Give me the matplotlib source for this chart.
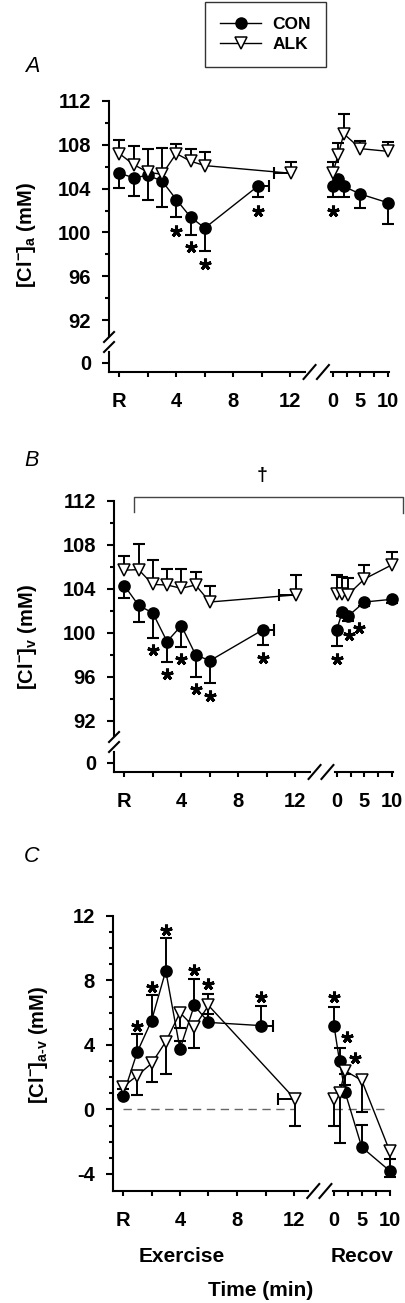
import matplotlib
matplotlib.use('Agg')
import matplotlib.pyplot as plt
from matplotlib.lines import Line2D
from matplotlib.transforms import offset_copy
import numpy as np

plt.rcParams['font.family'] = ['Liberation Sans', 'DejaVu Sans']
plt.rcParams['font.weight'] = 'bold'
plt.rcParams['mathtext.fontset'] = 'custom'
plt.rcParams['mathtext.rm'] = 'Liberation Sans:bold'
plt.rcParams['mathtext.bf'] = 'Liberation Sans:bold'
plt.rcParams['mathtext.it'] = 'Liberation Sans:bold:italic'
plt.rcParams['mathtext.default'] = 'rm'

# ---------------- data ----------------
con_ex_t = [0, 1, 2, 3, 4, 5, 6, 9.7]
alk_ex_t = [0, 1, 2, 3, 4, 5, 6, 12.05]
rec_t = [0, 1, 2, 5, 10]
con_fat_xse = 0.82
alk_fat_xse = 1.17

# Panel A: arterial [Cl-]
con_a_ex = [105.4, 105.0, 105.2, 104.7, 103.0, 101.4, 100.4, 104.2]
con_a_ex_se = [1.3, 1.65, 2.2, 2.4, 1.6, 1.6, 2.1, 1.0]
con_a_rec = [104.2, 104.9, 104.2, 103.5, 102.7]
con_a_rec_se = [1.0, 0.6, 1.0, 1.3, 1.9]
alk_a_ex = [107.2, 106.2, 105.5, 105.3, 107.2, 106.5, 106.1, 105.4]
alk_a_ex_se = [1.2, 1.7, 2.1, 2.4, 0.9, 1.1, 1.2, 1.0]
alk_a_rec = [105.4, 107.1, 109.0, 107.65, 107.4]
alk_a_rec_se = [1.0, 1.1, 1.8, 0.7, 0.9]

# Panel B: venous [Cl-]
con_b_ex = [104.3, 102.5, 101.8, 99.2, 100.65, 98.0, 97.45, 100.25]
con_b_ex_se = [1.1, 1.5, 2.3, 1.9, 1.95, 2.05, 2.05, 1.35]
con_b_rec = [100.25, 101.9, 101.5, 102.8, 103.05]
con_b_rec_se = [1.45, 0.4, 0.4, 0.4, 0.3]
alk_b_ex = [105.7, 105.75, 104.4, 104.35, 104.05, 104.35, 102.8, 103.45]
alk_b_ex_se = [1.3, 2.3, 2.2, 1.45, 1.75, 1.2, 1.45, 1.85]
alk_b_rec = [103.5, 103.5, 103.45, 104.9, 106.2]
alk_b_rec_se = [1.8, 1.6, 1.5, 1.3, 1.2]

# Panel C: a-v difference
con_c_ex = [0.85, 3.56, 5.5, 8.6, 3.75, 6.45, 5.4, 5.2]
con_c_ex_se = [0.4, 1.1, 1.6, 2.05, 0.5, 1.65, 1.75, 1.2]
con_c_rec = [5.2, 2.98, 1.07, -2.34, -3.8]
con_c_rec_se = [1.15, 0.85, 1.15, 1.4, 0.73]
alk_c_ex = [1.4, 2.1, 2.85, 4.2, 6.0, 5.1, 6.45, 0.66]
alk_c_ex_se = [0.5, 1.2, 1.15, 2.0, 0.95, 1.3, 0.5, 1.7]
alk_c_rec = [0.62, 1.03, 2.4, 1.8, -2.55]
alk_c_rec_se = [1.65, 3.1, 0.9, 1.95, 1.65]

# significance stars: (index, dx px, dy px relative to error-bar end)
stars_a_ex = [(4, 0, -14), (5, 0, -12), (6, 0, -13), (7, 0, -14)]
stars_a_rec = [(0, 0, -14)]
stars_b_ex = [(2, 0, -12), (3, 0, -12), (4, 0, -12), (5, 0, -12), (6, 0, -13), (7, 0, -13)]
stars_b_rec = [(0, 0, -13), (1, 7, -19), (2, 11, -7)]
stars_c_ex = [(1, 0, 8), (2, 0, 8), (3, 0, 8), (5, 0, 9), (6, 0, 10), (7, 0, 9)]
stars_c_rec = [(0, 0, 10), (1, 7, 11), (2, 10, 16)]

ex_ticks = [0, 4, 8, 12]
ex_ticklabels = ['R', '4', '8', '12']
rec_ticks = [0, 5, 10]
rec_ticklabels = ['0', '5', '10']

# ---------------- layout helpers ----------------
W, H = 405, 1303
fig = plt.figure(figsize=(W / 100, H / 100), dpi=100)


def box(x0, y0, x1, y1):
    return [x0 / W, 1 - y1 / H, (x1 - x0) / W, (y1 - y0) / H]


def fx(x):
    return x / W


def fy(y):
    return 1 - y / H


EX_PPM = 14.25
REC_PPM = 5.55
EX_LIM = (-0.72, 13.0)
REC_LIM = (-0.25, 10.1)
TICKFS = 14.5
LABFS = 14.5
LW_SPINE = 1.5


def style_axis(ax, left=False, bottom=False):
    for s in ['top', 'right']:
        ax.spines[s].set_visible(False)
    ax.spines['left'].set_visible(left)
    ax.spines['bottom'].set_visible(bottom)
    for s in ['left', 'bottom']:
        ax.spines[s].set_linewidth(LW_SPINE)
    ax.patch.set_alpha(0)
    ax.tick_params(axis='y', which='major', direction='out', length=5.4, width=1.5,
                   labelsize=TICKFS, pad=7.5, left=left, labelleft=left)
    ax.tick_params(axis='y', which='minor', direction='out', length=3.2, width=1.5, left=left)
    ax.tick_params(axis='x', which='major', direction='out', length=3.8, width=1.5,
                   labelsize=TICKFS, pad=10.5, bottom=bottom, labelbottom=bottom)
    ax.tick_params(axis='x', which='minor', direction='out', length=3.8, width=1.5, bottom=bottom)


def series(ax, x, y, se, direction, marker, mfc, z):
    x = np.asarray(x, float)
    y = np.asarray(y, float)
    se = np.asarray(se, float)
    end = y + direction * se
    ax.vlines(x, y, end, colors='k', lw=1.4, zorder=z - 1, clip_on=False)
    ax.plot(x, end, ls='none', marker='_', ms=9, mew=1.5, color='k', zorder=z - 1, clip_on=False)
    ax.plot(x, y, '-', color='k', lw=1.0, marker=marker, ms=8, mfc=mfc, mec='k', mew=1.1,
            zorder=z, clip_on=False)
    return end


def hbar(ax, x, y, xse, z):
    ax.hlines(y, x, x + xse, colors='k', lw=1.4, zorder=z - 1, clip_on=False)
    ax.plot([x + xse], [y], ls='none', marker='|', ms=9, mew=1.5, color='k', zorder=z - 1, clip_on=False)


def stars(ax, x, end, lst):
    for i, dx, dy in lst:
        tr = offset_copy(ax.transData, fig=fig, x=dx, y=dy, units='dots')
        ax.plot([x[i]], [end[i]], ls='none', marker=(5, 2, 0), ms=8.5, mew=2.2, color='k',
                transform=tr, clip_on=False, zorder=10)


def ybreak(xs, yc):
    for dy in (-5, 5):
        fig.add_artist(Line2D([fx(xs - 5), fx(xs + 5)], [fy(yc + dy + 5), fy(yc + dy - 5)],
                              color='k', lw=1.5))


def xbreak(xl, xr, yc):
    for x0 in (xl, (xl + xr) / 2):
        fig.add_artist(Line2D([fx(x0 - 1), fx(x0 + 11)], [fy(yc + 7), fy(yc - 7)], color='k', lw=1.5))


def panel_ab(cfg, con_ex, con_ex_se, con_rec, con_rec_se, alk_ex, alk_ex_se, alk_rec, alk_rec_se,
             s_ex, s_rec, ylab):
    Rx, rec0, ytop, ppu = cfg['Rx'], cfg['rec0'], cfg['ytop'], cfg['ppu']
    ybrk, ylo_top, y0, yax = cfg['ybrk'], cfg['ylo_top'], cfg['y0'], cfg['yax']
    exL = Rx + EX_LIM[0] * EX_PPM
    exR = Rx + EX_LIM[1] * EX_PPM
    rcL = rec0 + REC_LIM[0] * REC_PPM
    rcR = rec0 + REC_LIM[1] * REC_PPM
    ylim_up = (112 - (ybrk - ytop) / ppu, 112)
    ylim_lo = (-(yax - y0) / ppu, (y0 - ylo_top) / ppu)

    axL = fig.add_axes(box(exL, ytop, exR, ybrk))
    axR = fig.add_axes(box(rcL, ytop, rcR, ybrk))
    bL = fig.add_axes(box(exL, ylo_top, exR, yax))
    bR = fig.add_axes(box(rcL, ylo_top, rcR, yax))
    for a in (axL, axR):
        a.set_ylim(*ylim_up)
    for a in (bL, bR):
        a.set_ylim(*ylim_lo)
    for a in (axL, bL):
        a.set_xlim(*EX_LIM)
    for a in (axR, bR):
        a.set_xlim(*REC_LIM)
    style_axis(axL, left=True)
    style_axis(axR)
    style_axis(bL, left=True, bottom=True)
    style_axis(bR, bottom=True)
    axL.set_yticks([92, 96, 100, 104, 108, 112])
    axL.set_yticks([94, 98, 102, 106, 110], minor=True)
    axL.set_xticks([])
    axR.set_xticks([])
    axR.set_yticks([])
    bL.set_yticks([0])
    bL.set_xticks(ex_ticks)
    bL.set_xticklabels(ex_ticklabels)
    bL.set_xticks([2, 6, 10], minor=True)
    bR.set_yticks([])
    bR.set_xticks(rec_ticks)
    bR.set_xticklabels(rec_ticklabels)
    bR.set_xticks([2.5, 7.5], minor=True)

    e1 = series(axL, con_ex_t, con_ex, con_ex_se, -1, 'o', 'k', 4)
    e2 = series(axR, rec_t, con_rec, con_rec_se, -1, 'o', 'k', 4)
    series(axL, alk_ex_t, alk_ex, alk_ex_se, +1, 'v', 'white', 6)
    series(axR, rec_t, alk_rec, alk_rec_se, +1, 'v', 'white', 6)
    hbar(axL, con_ex_t[-1], con_ex[-1], con_fat_xse, 4)
    hbar(axL, alk_ex_t[-1], alk_ex[-1], -alk_fat_xse, 6)
    stars(axL, con_ex_t, e1, s_ex)
    stars(axR, rec_t, e2, s_rec)

    ybreak(exL, ybrk + 6)
    xbreak(exR, rcL, yax)
    fig.text(fx(cfg['ylab_x']), fy(cfg['ylab_y']), ylab, rotation=90, ha='center', va='center',
             fontsize=LABFS, fontweight='bold')
    fig.text(fx(32), fy(cfg['letter_y']), cfg['letter'], ha='center', va='center', fontsize=15.5,
             fontstyle='italic', fontweight='normal')
    return axL, axR


cfgA = dict(Rx=119.3, rec0=332.7, ytop=101, ppu=10.95, ybrk=336, ylo_top=352, y0=363, yax=372,
            ylab_x=26, ylab_y=235, letter='A', letter_y=67)
cfgB = dict(Rx=124.3, rec0=336.7, ytop=501, ppu=10.98, ybrk=736, ylo_top=752, y0=763, yax=772,
            ylab_x=28, ylab_y=637, letter='B', letter_y=461)

panel_ab(cfgA, con_a_ex, con_a_ex_se, con_a_rec, con_a_rec_se, alk_a_ex, alk_a_ex_se,
         alk_a_rec, alk_a_rec_se, stars_a_ex, stars_a_rec, '[Cl$^{-}$]$_{\\mathrm{a}}$ (mM)')
panel_ab(cfgB, con_b_ex, con_b_ex_se, con_b_rec, con_b_rec_se, alk_b_ex, alk_b_ex_se,
         alk_b_rec, alk_b_rec_se, stars_b_ex, stars_b_rec, '[Cl$^{-}$]$_{\\mathrm{v}}$ (mM)')

# bracket with dagger in panel B
fig.add_artist(Line2D([fx(134.3), fx(134.3), fx(403.3), fx(403.3)],
                      [fy(511.7), fy(496.7), fy(496.7), fy(512.7)], color='#444444', lw=1.0))
fig.text(fx(261.7), fy(475), '\u2020', ha='center', va='center', fontsize=14, fontweight='bold')

# ---------------- panel C ----------------
RxC, rec0C = 123, 334
ytopC, yaxC, ppuC = 916, 1191, 16.12
exL = RxC + EX_LIM[0] * EX_PPM
exR = RxC + EX_LIM[1] * EX_PPM
rcL = rec0C + REC_LIM[0] * REC_PPM
rcR = rec0C + REC_LIM[1] * REC_PPM
ylimC = (12 - (yaxC - ytopC) / ppuC, 12)
cL = fig.add_axes(box(exL, ytopC, exR, yaxC))
cR = fig.add_axes(box(rcL, ytopC, rcR, yaxC))
for a in (cL, cR):
    a.set_ylim(*ylimC)
cL.set_xlim(*EX_LIM)
cR.set_xlim(*REC_LIM)
style_axis(cL, left=True, bottom=True)
style_axis(cR, bottom=True)
cL.set_yticks([-4, 0, 4, 8, 12])
cL.set_yticks([-3, -2, -1, 1, 2, 3, 5, 6, 7, 9, 10, 11], minor=True)
cL.set_yticklabels(['-4', '0', '4', '8', '12'])
cL.set_xticks(ex_ticks)
cL.set_xticklabels(ex_ticklabels)
cL.set_xticks([2, 6, 10], minor=True)
cR.set_yticks([])
cR.set_xticks(rec_ticks)
cR.set_xticklabels(rec_ticklabels)
cR.set_xticks([2.5, 7.5], minor=True)

cL.plot([0, 12], [0, 0], ls=(0, (6, 4)), color='#666666', lw=1.0, zorder=1)
cR.plot([0, 10], [0, 0], ls=(0, (6, 4)), color='#666666', lw=1.0, zorder=1)

e1 = series(cL, con_ex_t, con_c_ex, con_c_ex_se, +1, 'o', 'k', 4)
e2 = series(cR, rec_t, con_c_rec, con_c_rec_se, +1, 'o', 'k', 4)
series(cL, alk_ex_t, alk_c_ex, alk_c_ex_se, -1, 'v', 'white', 6)
series(cR, rec_t, alk_c_rec, alk_c_rec_se, -1, 'v', 'white', 6)
hbar(cL, con_ex_t[-1], con_c_ex[-1], con_fat_xse, 4)
hbar(cL, alk_ex_t[-1], alk_c_ex[-1], -alk_fat_xse, 6)
stars(cL, con_ex_t, e1, stars_c_ex)
stars(cR, rec_t, e2, stars_c_rec)
xbreak(exR, rcL, yaxC)

fig.text(fx(39), fy(1045), '[Cl$^{-}$]$_{\\mathrm{a\\text{-}v}}$ (mM)', rotation=90, ha='center',
         va='center', fontsize=LABFS, fontweight='bold')
fig.text(fx(32), fy(856), 'C', ha='center', va='center', fontsize=15.5, fontstyle='italic',
         fontweight='normal')
fig.text(fx(182), fy(1257), 'Exercise', ha='center', va='center', fontsize=15, fontweight='bold')
fig.text(fx(362), fy(1257), 'Recov', ha='center', va='center', fontsize=15, fontweight='bold')
fig.text(fx(261), fy(1290), 'Time (min)', ha='center', va='center', fontsize=15, fontweight='bold')

# ---------------- legend ----------------
h_con = Line2D([], [], color='k', lw=1.0, marker='o', ms=8, mfc='k', mec='k')
h_alk = Line2D([], [], color='k', lw=1.0, marker='v', ms=8, mfc='white', mec='k', mew=1.1)
leg = fig.legend([h_con, h_alk], ['CON', 'ALK'], loc='upper left',
                 bbox_to_anchor=(fx(205), fy(2)), frameon=True, fancybox=False,
                 edgecolor='k', handlelength=2.4, fontsize=12.5, borderpad=0.85,
                 labelspacing=0.3, handletextpad=0.65, borderaxespad=0)
leg.get_frame().set_linewidth(1.0)
for t in leg.get_texts():
    t.set_fontweight('bold')

fig.savefig('out.png', dpi=100)
